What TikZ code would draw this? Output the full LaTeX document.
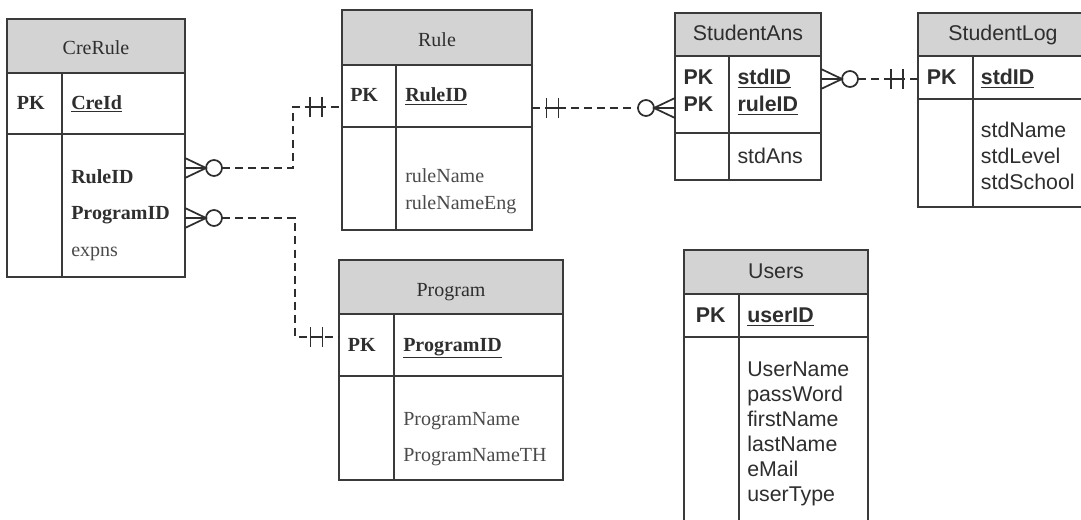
\documentclass[tikz,border=0pt]{standalone}
\usepackage{fontspec}
\setmainfont{Liberation Serif}
\newfontfamily\arialf{Liberation Sans}
\usetikzlibrary{calc}
\definecolor{hdrgray}{HTML}{D3D3D3}
\definecolor{ink}{HTML}{2E2E2E}
\definecolor{soft}{HTML}{4A4A4A}
\definecolor{edge}{HTML}{3A3A3A}

% table frame: name, x1, x2, top, header bottom, key bottom, bottom, divider x
\newcommand\ertable[8]{%
  \fill[hdrgray] (#2,#4) rectangle (#3,#5);
  \draw[frame] (#2,#4) rectangle (#3,#7)
    (#2,#5) -- (#3,#5) (#2,#6) -- (#3,#6) (#8,#5) -- (#8,#7);
  \coordinate (#1-nw) at (#2,#4);
}

\tikzset{
  frame/.style={draw=edge, line width=1.2pt, line join=miter},
  serif/.style={font=\fontsize{15}{18}\selectfont, text=ink, inner sep=0pt},
  sans/.style={font=\arialf\fontsize{16}{19}\selectfont, text=ink, inner sep=0pt},
  plain/.style={text=soft},
  rel/.style={draw=ink, line width=1.4pt, dash pattern=on 6pt off 3.8pt},
  sym/.style={draw=ink, line width=1.3pt, solid},
  zeromany/.pic={
    \draw[sym] (0,-10) -- (21,0) -- (0,10) (0,0) -- (21,0);
    \draw[sym] (29,0) circle[radius=8];
  },
  onebar/.pic={
    \draw[sym] (-6,-10) -- (-6,10) (6,-10) -- (6,10) (-6,0) -- (6,0);
  }
}

\begin{document}
\begin{tikzpicture}[x=0.75pt, y=-0.75pt]
\path[use as bounding box, clip] (0,0) rectangle (1081,520);
\fill[white] (0,0) rectangle (1081,520);

% ---------- table frames ----------
\ertable{cre}{7}{185}{19}{73}{134}{277}{62}
\ertable{rule}{342}{532}{10}{65}{127}{230}{396}
\ertable{prog}{339}{563}{260}{314}{376}{480}{394}
\ertable{sa}{675}{821}{13}{56}{133}{180}{729}
\ertable{log}{918}{1095}{13}{56}{99}{207}{973}
\ertable{usr}{684}{868}{250}{294}{337}{540}{739}

% ---------- CreRule ----------
\node[serif, anchor=base] (cre-t) at (96,55) {CreRule};
\node[serif, anchor=base west] (cre-pk) at (16.7,109.3) {\textbf{PK}};
\node[serif, anchor=base west] (cre-k) at (71,109.3) {\textbf{\underline{CreId}}};
\node[serif, anchor=base west] (cre-f1) at (71,183.3) {\textbf{RuleID}};
\node[serif, anchor=base west] (cre-f2) at (71,220) {\textbf{ProgramID}};
\node[serif, plain, anchor=base west] (cre-f3) at (71,256.7) {expns};

% ---------- Rule ----------
\node[serif, anchor=base] (rule-t) at (437,46.7) {Rule};
\node[serif, anchor=base west] (rule-pk) at (350,101.7) {\textbf{PK}};
\node[serif, anchor=base west] (rule-k) at (405,101.7) {\textbf{\underline{RuleID}}};
\node[serif, plain, anchor=base west] (rule-f1) at (405,182.7) {ruleName};
\node[serif, plain, anchor=base west] (rule-f2) at (405,209.3) {ruleNameEng};

% ---------- Program ----------
\node[serif, anchor=base] (prog-t) at (451,296.7) {Program};
\node[serif, anchor=base west] (prog-pk) at (347.7,351) {\textbf{PK}};
\node[serif, anchor=base west] (prog-k) at (403,351) {\textbf{\underline{ProgramID}}};
\node[serif, plain, anchor=base west] (prog-f1) at (403,425) {ProgramName};
\node[serif, plain, anchor=base west] (prog-f2) at (403,461.7) {ProgramNameTH};

% ---------- StudentAns ----------
\node[sans, anchor=base] (sa-t) at (748,40.7) {StudentAns};
\node[sans, anchor=base west] (sa-pk1) at (683.3,85) {\textbf{PK}};
\node[sans, anchor=base west] (sa-pk2) at (683.3,111.7) {\textbf{PK}};
\node[sans, anchor=base west] (sa-k1) at (737.3,85) {\textbf{\underline{stdID}}};
\node[sans, anchor=base west] (sa-k2) at (737.3,111.7) {\textbf{\underline{ruleID}}};
\node[sans, anchor=base west] (sa-f1) at (737.3,163.3) {stdAns};

% ---------- StudentLog ----------
\node[sans, anchor=base] (log-t) at (1003,40.7) {StudentLog};
\node[sans, anchor=base west] (log-pk) at (926.7,85) {\textbf{PK}};
\node[sans, anchor=base west] (log-k) at (980.7,85) {\textbf{\underline{stdID}}};
\node[sans, anchor=base west] (log-f1) at (980.7,137.3) {stdName};
\node[sans, anchor=base west] (log-f2) at (980.7,163.3) {stdLevel};
\node[sans, anchor=base west] (log-f3) at (980.7,189.3) {stdSchool};

% ---------- Users ----------
\node[sans, anchor=base] (usr-t) at (776,278.3) {Users};
\node[sans, anchor=base west] (usr-pk) at (695.7,322.7) {\textbf{PK}};
\node[sans, anchor=base west] (usr-k) at (747,322.7) {\textbf{\underline{userID}}};
\node[sans, anchor=base west] (usr-f1) at (747,376) {UserName};
\node[sans, anchor=base west] (usr-f2) at (747,401) {passWord};
\node[sans, anchor=base west] (usr-f3) at (747,426.2) {firstName};
\node[sans, anchor=base west] (usr-f4) at (747,451.3) {lastName};
\node[sans, anchor=base west] (usr-f5) at (747,476.5) {eMail};
\node[sans, anchor=base west] (usr-f6) at (747,501.7) {userType};

% ---------- relationship end points ----------
\coordinate (cre-a) at (185,168);
\coordinate (cre-b) at (185,218);
\coordinate (rule-a) at (342,107);
\coordinate (rule-b) at (532,108);
\coordinate (prog-a) at (339,337);
\coordinate (sa-a) at (675,108);
\coordinate (sa-b) at (821,79);
\coordinate (log-a) at (918,79);

% CreRule >O---H- Rule
\draw[rel] ($(cre-a)+(37,0)$) -| ($(rule-a)+(-49,0)$) -- (rule-a);
\pic at (cre-a) {zeromany};
\pic at ($(rule-a)+(-26,0)$) {onebar};

% CreRule >O---H- Program
\draw[rel] ($(cre-b)+(37,0)$) -| ($(prog-a)+(-44,0)$) -- (prog-a);
\pic at (cre-b) {zeromany};
\pic at ($(prog-a)+(-22.5,0)$) {onebar};

% Rule -H---O< StudentAns
\draw[rel] (rule-b) -- ($(sa-a)+(-37,0)$);
\pic at ($(rule-b)+(20.5,0)$) {onebar};
\pic[rotate=180] at (sa-a) {zeromany};

% StudentAns >O--H- StudentLog
\draw[rel] ($(sa-b)+(37,0)$) -- (log-a);
\pic at (sa-b) {zeromany};
\pic at ($(log-a)+(-20.8,0)$) {onebar};
\end{tikzpicture}
\end{document}
